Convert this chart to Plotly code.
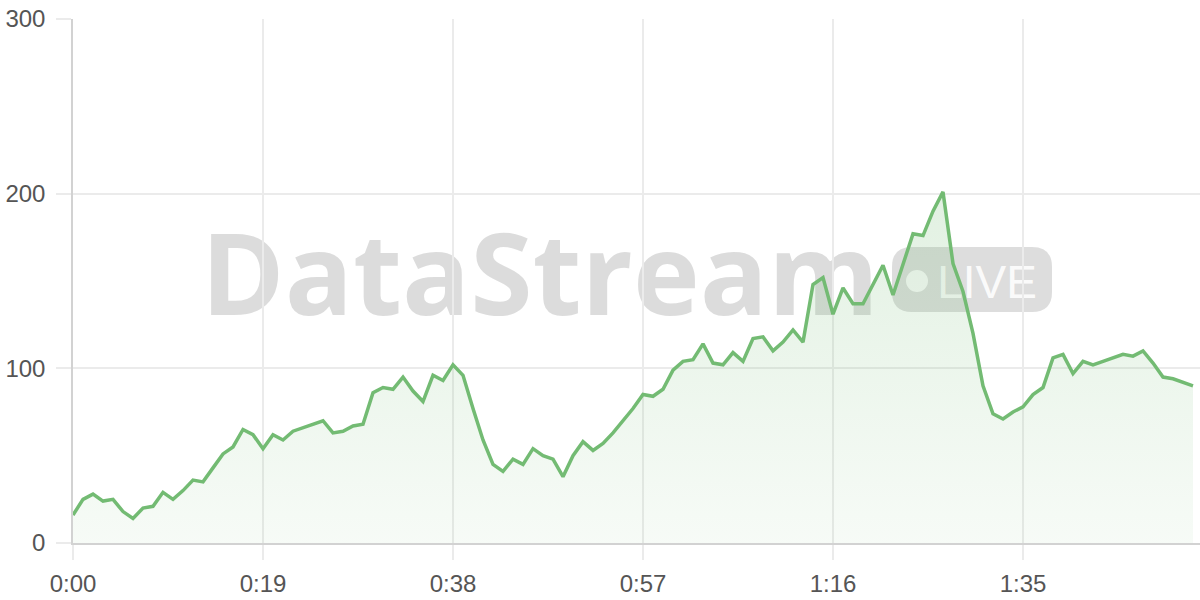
import plotly.graph_objects as go

# ---- data ----
values = [16, 25, 28, 24, 25, 18, 14, 20, 21, 29,
          25, 30, 36, 35, 43, 51, 55, 65, 62, 54,
          62, 59, 64, 66, 68, 70, 63, 64, 67, 68,
          86, 89, 88, 95, 87, 81, 96, 93, 102, 96,
          77, 59, 45, 41, 48, 45, 54, 50, 48, 38,
          50, 58, 53, 57, 63, 70, 77, 85, 84, 88,
          99, 104, 105, 114, 103, 102, 109, 104, 117, 118,
          110, 115, 122, 115, 148, 152, 131, 146, 137, 137,
          148, 159, 142, 160, 177, 176, 190, 201, 160, 144,
          120, 90, 74, 71, 75, 78, 85, 89, 106, 108,
          97, 104, 102, 104, 106, 108, 107, 110, 103, 95,
          94, 92, 90]
seconds = list(range(len(values)))
x_tickvals = [0, 19, 38, 57, 76, 95]
x_ticktext = ["0:00", "0:19", "0:38", "0:57", "1:16", "1:35"]
y_tickvals = [0, 100, 200, 300]

LINE = "rgb(115,187,115)"
GRID = "#ebebeb"
AXIS = "#d2d2d2"
TICKFONT = dict(family="Liberation Sans, Arial, sans-serif", size=24, color="#555555")

fig = go.Figure()
fig.add_trace(go.Scatter(
    x=seconds, y=values, mode="lines",
    line=dict(color=LINE, width=3.5),
    fill="tozeroy",
    fillgradient=dict(type="vertical", start=0, stop=300,
                      colorscale=[[0, "rgba(115,187,115,0.06)"],
                                  [1, "rgba(115,187,115,0.28)"]]),
    hoverinfo="skip", showlegend=False,
))

# ---- watermark (paper coords, below the data) ----
W, H, L, T = 1127.0, 524.0, 73.0, 19.0
def px(xp):
    return (xp - L) / W
def py(yp):
    return (T + H - yp) / H

shapes = []
shapes.append(dict(type="rect", xref="paper", yref="paper", layer="below",
                   x0=px(200), x1=px(880), y0=py(327), y1=py(231),
                   line=dict(width=0), fillcolor="rgba(0,0,0,0)",
                   label=dict(text="DataStream", textposition="middle center",
                              font=dict(family="Open Sans, sans-serif", size=113,
                                        color="rgba(120,120,120,0.26)", weight=750))))
bx0, bx1, by0, by1, r = px(892), px(1052), py(312), py(247), 20
rx, ry = r / W, r / H
path = (f"M {bx0+rx},{by0} L {bx1-rx},{by0} Q {bx1},{by0} {bx1},{by0+ry} "
        f"L {bx1},{by1-ry} Q {bx1},{by1} {bx1-rx},{by1} L {bx0+rx},{by1} "
        f"Q {bx0},{by1} {bx0},{by1-ry} L {bx0},{by0+ry} Q {bx0},{by0} {bx0+rx},{by0} Z")
shapes.append(dict(type="path", xref="paper", yref="paper", layer="below", path=path,
                   line=dict(width=0), fillcolor="rgba(120,120,120,0.25)"))
shapes.append(dict(type="circle", xref="paper", yref="paper", layer="below",
                   x0=px(906), x1=px(928), y0=py(292), y1=py(270),
                   line=dict(width=0), fillcolor="rgba(255,255,255,0.85)"))
shapes.append(dict(type="rect", xref="paper", yref="paper", layer="below",
                   x0=px(934), x1=px(1040), y0=py(302), y1=py(253),
                   line=dict(width=0), fillcolor="rgba(0,0,0,0)",
                   label=dict(text="LIVE", textposition="middle center",
                              font=dict(family="Liberation Sans, Arial, sans-serif", size=46,
                                        color="rgba(255,255,255,0.9)"))))

fig.update_layout(
    width=1200, height=600,
    margin=dict(l=73, r=0, t=19, b=57, pad=0),
    paper_bgcolor="white", plot_bgcolor="rgba(0,0,0,0)",
    shapes=shapes,
    xaxis=dict(range=[0, 112.7], tickvals=x_tickvals, ticktext=x_ticktext,
               showgrid=True, gridcolor=GRID, gridwidth=1.5,
               ticks="outside", ticklen=15, tickcolor=GRID, tickwidth=1.5,
               showline=True, linecolor=AXIS, linewidth=2,
               zeroline=False, tickfont=TICKFONT, ticklabelstandoff=3),
    yaxis=dict(range=[0, 300], tickvals=y_tickvals,
               showgrid=True, gridcolor=GRID, gridwidth=1.5,
               ticks="outside", ticklen=15, tickcolor=GRID, tickwidth=1.5,
               showline=True, linecolor=AXIS, linewidth=1.5,
               zeroline=False, tickfont=TICKFONT, ticklabelstandoff=6),
)

fig.write_html("out.html", config={"displayModeBar": False},
               post_script="document.body.style.margin='0';document.body.style.overflow='hidden';")
